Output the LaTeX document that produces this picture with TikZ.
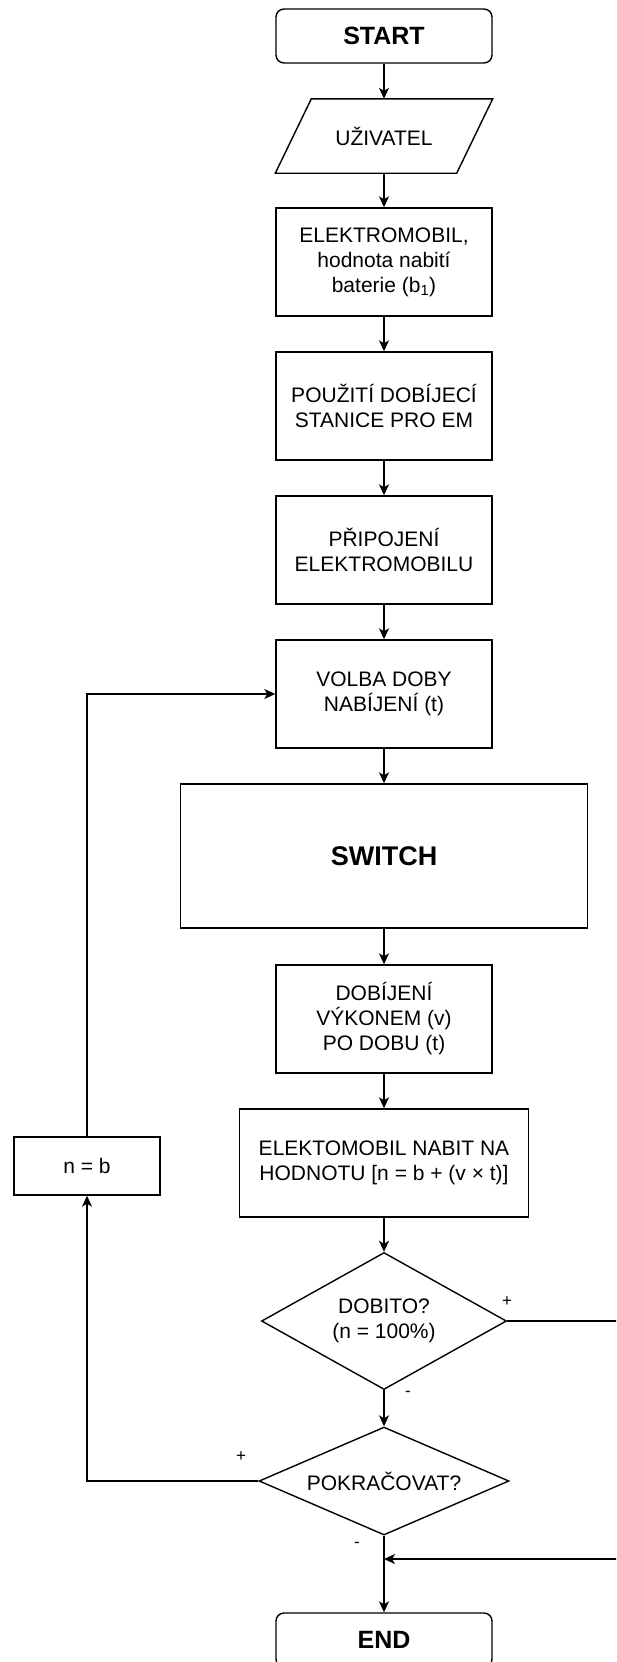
\documentclass[tikz,border=0pt]{standalone}
\usepackage{fontspec}
\setmainfont{Liberation Sans}
\usetikzlibrary{shapes.geometric,arrows.meta}

\newcommand{\boxfont}{\fontsize{21}{25}\selectfont}
\newcommand{\termfont}{\fontsize{25}{30}\selectfont\bfseries}

\begin{document}
\begin{tikzpicture}[x=1pt,y=-1pt,line width=1.4pt,
    box/.style={draw, rectangle, align=center, inner sep=0, font=\boxfont,
        minimum width=216, minimum height=108},
    term/.style={draw, rectangle, rounded corners=8, inner sep=0, font=\termfont,
        minimum width=216, minimum height=54},
    io/.style={rectangle, inner sep=0, font=\boxfont,
        minimum width=216, minimum height=73},
    decision/.style={draw, diamond, align=center, inner sep=0, font=\boxfont},
    arrow/.style={-{Stealth[length=11pt,width=10pt,inset=3pt]}},
    sign/.style={font=\fontsize{17}{20}\selectfont}]
    \useasboundingbox (0,0) rectangle (616,1662);
    \clip (0,0) rectangle (616,1662);
    % Main column
    \node[term] (start) at (384,36) {START};
    \node[io] (user) at (384,136) {UŽIVATEL};
    \draw (user.south west) -- ([xshift=-36pt]user.south east) -- (user.north east)
        -- ([xshift=36pt]user.north west) -- cycle;
    \node[box] (ev) at (384,262) {ELEKTROMOBIL,\\hodnota nabití\\baterie (b\textsubscript{1})};
    \node[box] (station) at (384,406) {POUŽITÍ DOBÍJECÍ\\STANICE PRO EM};
    \node[box] (plug) at (384,550) {PŘIPOJENÍ\\ELEKTROMOBILU};
    \node[box] (time) at (384,694) {VOLBA DOBY\\NABÍJENÍ (t)};
    \node[box, minimum width=407, minimum height=144,
        font=\fontsize{27}{32}\selectfont\bfseries] (switch) at (384,856) {SWITCH};
    \node[box] (charge) at (384,1019) {DOBÍJENÍ\\VÝKONEM (v)\\PO DOBU (t)};
    \node[box, minimum width=289] (level) at (384,1163) {ELEKTOMOBIL NABIT NA\\HODNOTU [n = b + (v × t)]};
    % Decisions
    \node[decision, aspect=1.8, minimum width=245, minimum height=137] (full) at (384,1321) {DOBITO?\\(n = 100\%)};
    \node[decision, aspect=2.3, minimum width=250, minimum height=108] (again) at (384,1481) {POKRAČOVAT?};
    \node[term] (finish) at (384,1640) {END};
    % Loop back
    \node[box, minimum width=146, minimum height=58] (reset) at (87,1166) {n = b};
    \coordinate (join) at (384,1559);

    \draw[arrow] (start) -- (user);
    \draw[arrow] (user) -- (ev);
    \draw[arrow] (ev) -- (station);
    \draw[arrow] (station) -- (plug);
    \draw[arrow] (plug) -- (time);
    \draw[arrow] (time) -- (switch);
    \draw[arrow] (switch) -- (charge);
    \draw[arrow] (charge) -- (level);
    \draw[arrow] (level) -- (full);
    \draw[arrow] (full) -- (again);
    \draw[arrow] (again) -- (finish);
    \draw[arrow] (again.west) -| (reset.south);
    \draw[arrow] (reset.north) |- (time.west);
    \draw[arrow] (full.east) -- ++(120,0) |- (join);
    % Branch signs
    \node[sign] (fullyes) at (507,1302) {+};
    \node[sign] (fullno) at (408,1394) {-};
    \node[sign] (againyes) at (241,1457) {+};
    \node[sign] (againno) at (357,1545) {-};
\end{tikzpicture}
\end{document}
